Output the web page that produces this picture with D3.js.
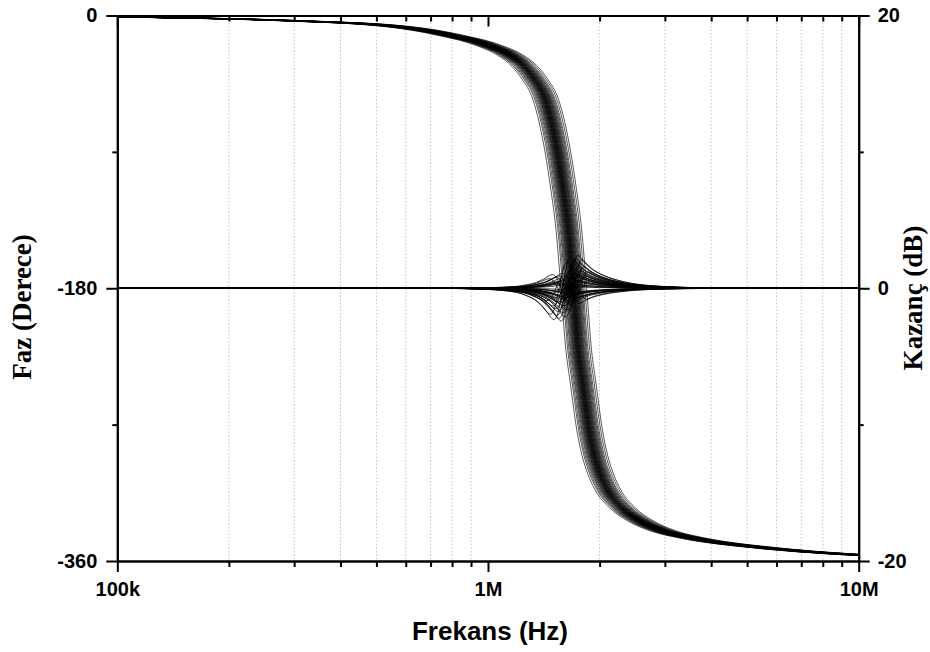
<!DOCTYPE html>
<html>
<head>
<meta charset="utf-8">
<script src="https://cdn.jsdelivr.net/npm/d3@7"></script>
<style>
  body { margin: 0; background: #fff; }
  svg { display: block; }
</style>
</head>
<body>
<svg id="chart" width="930" height="652"></svg>
<script>
// nominal phase curve (Hz, degrees)
var phaseFreq = [8e4, 1e5, 1.673e5, 3.0e5, 5.78e5, 7.88e5, 1.022e6, 1.143e6, 1.254e6, 1.334e6, 1.428e6,
  1.482e6, 1.539e6, 1.596e6, 1.647e6, 1.699e6, 1.752e6, 1.797e6, 1.876e6, 1.935e6, 1.99e6,
  2.1e6, 2.3e6, 2.55e6, 2.95e6, 3.49e6, 3.97e6, 4.96e6, 5.94e6, 9.0e6, 1e7, 1.2e7];
var phaseDeg = [-0.8, -1, -1.8, -3.5, -7.5, -13, -20.5, -26, -33.7, -42, -55.6,
  -70, -90, -115, -141, -180, -221, -241, -274, -290, -300,
  -313, -325, -333, -340, -344.5, -347, -350, -352, -355.4, -356, -356.6];

// nominal gain ripple around each curve's centre (frequency ratio, relative dB)
var gainRatio = [0.05, 0.4, 0.55, 0.65, 0.74, 0.78, 0.83, 0.87, 0.9, 0.917, 0.93, 0.95, 0.969,
  0.99, 1.005, 1.02, 1.05, 1.1, 1.2, 1.35, 1.5, 1.8, 2.3, 3.5, 8];
var gainShape = [0, 0, -0.02, -0.06, -0.15, -0.25, -0.42, -0.68, -0.92, -1.0, -0.95, -0.6, 0,
  0.6, 0.92, 1.0, 0.85, 0.62, 0.38, 0.2, 0.11, 0.045, 0.012, 0, 0];

// per run: centre frequency ratio and gain ripple amplitude (dB)
var curveShift = [0.926, 0.937, 0.944, 0.951, 0.956, 0.961, 0.965, 0.969, 0.972, 0.975,
  0.978, 0.981, 0.983, 0.986, 0.988, 0.990, 0.992, 0.994, 0.996, 0.998,
  1.000, 1.002, 1.004, 1.006, 1.008, 1.010, 1.012, 1.015, 1.017, 1.020,
  1.023, 1.026, 1.029, 1.032, 1.036, 1.040, 1.045, 1.050, 1.056, 1.063, 1.074, 1.086];
var gainAmp = [0.9, -0.7, 1.9, 0.4, -1.0, 1.3, 2.3, -0.4, 0.7, 1.5,
  -0.8, 0.2, 2.0, -0.5, 1.0, 1.7, -0.3, 0.5, 2.2, -0.9,
  1.1, 0.3, -0.7, 1.4, 0.8, 2.4, -0.4, 1.0, 0.6, -1.1,
  1.8, 0.1, 1.3, -0.6, 2.1, 0.7, -0.3, 1.6, 0.9, -0.8, 1.2, 0.5];

var xMajor = [1e5, 1e6, 1e7];
var xMajorLabels = ["100k", "1M", "10M"];
var xMinor = [2e5, 3e5, 4e5, 5e5, 6e5, 7e5, 8e5, 9e5, 2e6, 3e6, 4e6, 5e6, 6e6, 7e6, 8e6, 9e6];
var phaseMajor = [0, -180, -360];
var phaseMinor = [-90, -270];
var gainMajor = [20, 0, -20];
var gainMinor = [10, -10];

(function(){
  var pLeft = 117.3, pRight = 858.7, pTop = 15.5, pBottom = 561;
  var svg = d3.select("#chart");

  var x = d3.scaleLog().domain([1e5, 1e7]).range([pLeft, pRight]);
  var yPhase = d3.scaleLinear().domain([-360, 0]).range([pBottom, pTop]);
  var yGain = d3.scaleLinear().domain([-20, 20]).range([pBottom, pTop]);

  svg.append("defs").append("clipPath").attr("id", "plotClip")
    .append("rect").attr("x", pLeft).attr("y", pTop - 2)
    .attr("width", pRight - pLeft).attr("height", pBottom - pTop + 2);

  // dotted grid at the minor decades
  svg.append("g").selectAll("line").data(xMinor).enter().append("line")
    .attr("x1", function(d){ return x(d); }).attr("x2", function(d){ return x(d); })
    .attr("y1", pTop).attr("y2", pBottom)
    .attr("stroke", "#c4c4c4").attr("stroke-width", 1).attr("stroke-dasharray", "1.5,2");

  var plot = svg.append("g").attr("clip-path", "url(#plotClip)");

  var gainLine = d3.line()
    .x(function(d){ return x(d[0]); })
    .y(function(d){ return yGain(d[1]); })
    .curve(d3.curveCatmullRom.alpha(0.5));

  var phaseLine = d3.line()
    .x(function(d){ return x(d[0]); })
    .y(function(d){ return yPhase(d[1]); })
    .curve(d3.curveMonotoneX);

  var f0 = 1.699e6;
  curveShift.forEach(function(k, i){
    var g = gainRatio.map(function(r, j){ return [f0 * k * r, gainAmp[i] * gainShape[j]]; });
    plot.append("path").attr("d", gainLine(g))
      .attr("fill", "none").attr("stroke", "#000").attr("stroke-width", 0.75);
  });
  curveShift.forEach(function(k){
    var p = phaseFreq.map(function(f, j){ return [f * k, phaseDeg[j]]; });
    plot.append("path").attr("d", phaseLine(p))
      .attr("fill", "none").attr("stroke", "#000").attr("stroke-width", 0.65);
  });

  // axes
  function styleAxis(g) {
    g.attr("font-family", "'Liberation Sans', Arial, sans-serif")
      .attr("font-size", 20).attr("font-weight", "bold");
    g.selectAll("path, line").attr("stroke", "#000").attr("stroke-width", 2);
    g.selectAll("text").attr("fill", "#000");
  }

  function addAxis(axis, tx, ty) {
    var g = svg.append("g").attr("transform", "translate(" + tx + "," + ty + ")").call(axis);
    styleAxis(g);
    return g;
  }

  var plain = function(d){ return String(d); };

  addAxis(d3.axisBottom(x).tickValues(xMajor).tickSize(11).tickSizeOuter(0).tickPadding(10)
    .tickFormat(function(d, i){ return xMajorLabels[i]; }), 0, pBottom);
  addAxis(d3.axisBottom(x).tickValues(xMinor).tickSize(6).tickSizeOuter(0).tickFormat(""), 0, pBottom);
  addAxis(d3.axisTop(x).tickValues(xMajor).tickSize(-11).tickSizeOuter(0).tickFormat(""), 0, pTop);
  addAxis(d3.axisTop(x).tickValues(xMinor).tickSize(-6).tickSizeOuter(0).tickFormat(""), 0, pTop);
  addAxis(d3.axisLeft(yPhase).tickValues(phaseMajor).tickSize(11).tickSizeOuter(0).tickPadding(9)
    .tickFormat(plain), pLeft, 0);
  addAxis(d3.axisLeft(yPhase).tickValues(phaseMinor).tickSize(5).tickSizeOuter(0).tickFormat(""), pLeft, 0);
  addAxis(d3.axisRight(yGain).tickValues(gainMajor).tickSize(11).tickSizeOuter(0).tickPadding(8)
    .tickFormat(plain), pRight, 0);
  addAxis(d3.axisRight(yGain).tickValues(gainMinor).tickSize(5).tickSizeOuter(0).tickFormat(""), pRight, 0);

  // titles
  svg.append("text").attr("x", 490).attr("y", 640).attr("text-anchor", "middle")
    .attr("font-family", "'Liberation Sans', Arial, sans-serif").attr("font-weight", "bold")
    .attr("font-size", 26).text("Frekans (Hz)");

  svg.append("text").attr("transform", "translate(31,307) rotate(-90)").attr("text-anchor", "middle")
    .attr("font-family", "'Liberation Serif', 'Times New Roman', serif").attr("font-weight", "bold")
    .attr("font-size", 27).text("Faz (Derece)");

  svg.append("text").attr("transform", "translate(922,298) rotate(-90)").attr("text-anchor", "middle")
    .attr("font-family", "'Liberation Serif', 'Times New Roman', serif").attr("font-weight", "bold")
    .attr("font-size", 27).text("Kazanç (dB)");
})();
</script>
</body>
</html>
